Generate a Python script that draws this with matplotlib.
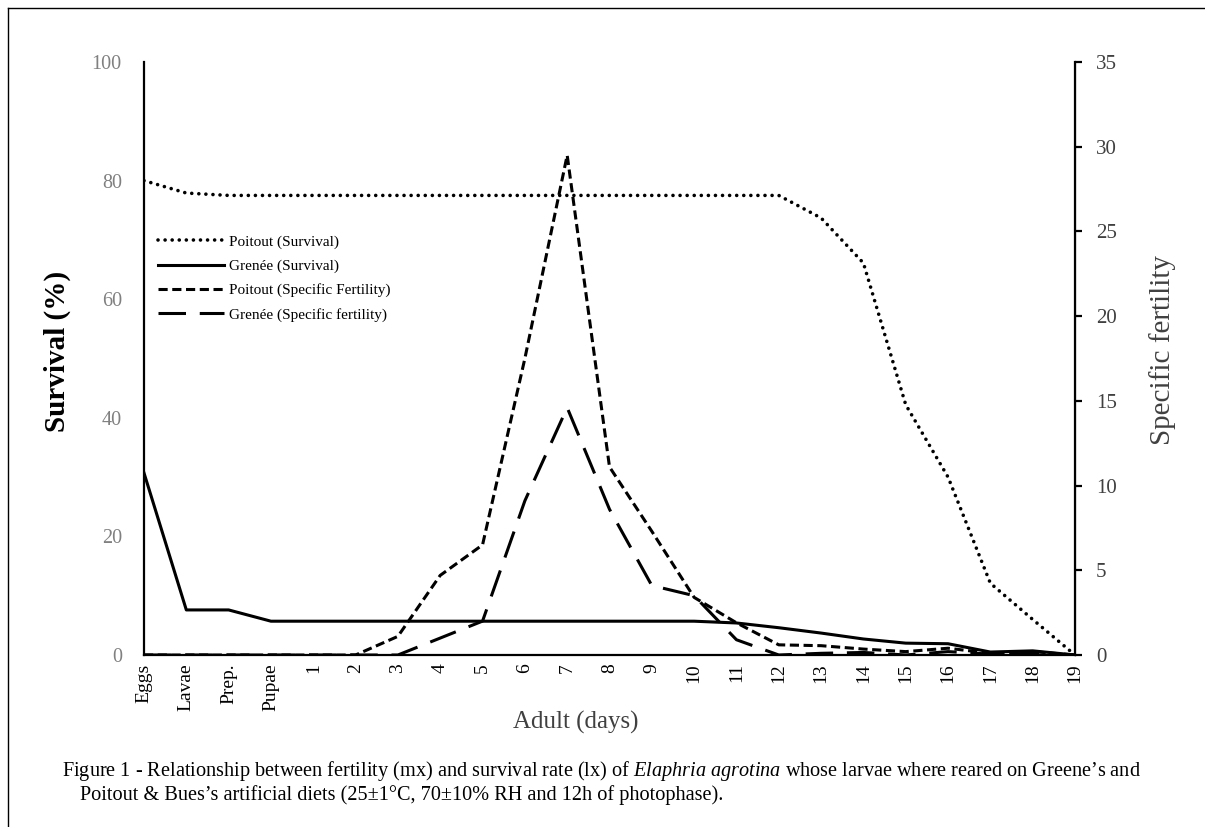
import numpy as np
import matplotlib.pyplot as plt
from matplotlib.lines import Line2D

plt.rcParams['font.family'] = 'Liberation Serif'
plt.rcParams['mathtext.fontset'] = 'custom'
plt.rcParams['mathtext.rm'] = 'Liberation Serif'
plt.rcParams['mathtext.it'] = 'Liberation Serif:italic'

# stages on the x axis
stages = ['Eggs', 'Lavae', 'Prep.', 'Pupae'] + [str(d) for d in range(1, 20)]

# survival (%) - left axis
poitout_surv = [80.0, 77.9, 77.5, 77.5, 77.5, 77.5, 77.5, 77.5, 77.5, 77.5, 77.5, 77.5,
                77.5, 77.5, 77.5, 77.5, 73.7, 66.1, 42.2, 30.0, 12.1, 6.0, 0.0]
grenee_surv = [30.7, 7.6, 7.6, 5.7, 5.7, 5.7, 5.7, 5.7, 5.7, 5.7, 5.7, 5.7,
               5.7, 5.7, 5.4, 4.6, 3.7, 2.7, 2.0, 1.9, 0.5, 0.7, 0.0]

# specific fertility - right axis
poitout_fert = [0, 0, 0, 0, 0, 0, 1.1, 4.7, 6.5, 17.5, 29.5, 11.1,
                7.3, 3.4, 1.9, 0.6, 0.55, 0.35, 0.2, 0.4, 0.1, 0.2, 0]
grenee_fert = [0, 0, 0, 0, 0, 0, 0, 1.0, 2.0, 9.1, 14.6, 8.6,
               4.1, 3.5, 0.9, 0, 0.1, 0.15, 0, 0.2, 0.05, 0.1, 0]

labels = ['Poitout (Survival)', 'Grenée (Survival)',
          'Poitout (Specific Fertility)', 'Grenée (Specific fertility)']

W, H = 1205, 827
fig = plt.figure(figsize=(W / 100, H / 100), dpi=100)
ax = fig.add_axes([144 / W, 1 - 655 / H, (1075 - 144) / W, (655 - 62) / H])
ax2 = ax.twinx()

x = np.arange(len(stages))
l1, = ax.plot(x, poitout_surv, color='black', lw=2.6, linestyle=(0, (0.01, 1.95)),
              dash_capstyle='round', label=labels[0])
l2, = ax.plot(x, grenee_surv, color='black', lw=2.2, label=labels[1])
l3, = ax2.plot(x, poitout_fert, color='black', lw=2.2, linestyle=(0, (3.0, 1.5)),
               label=labels[2])
l4, = ax2.plot(x, grenee_fert, color='black', lw=2.2, linestyle=(0, (9, 4.5)),
               label=labels[3])

ax.set_xlim(0, len(stages) - 1)
ax.set_ylim(0, 100)
ax.set_yticks(range(0, 101, 20))
ax2.set_ylim(0, 35)
ax2.set_yticks(range(0, 36, 5))
ax.set_xticks(x)
ax.set_xticklabels(stages, rotation=90)

ax.spines['top'].set_visible(False)
ax2.spines['top'].set_visible(False)
ax2.spines['left'].set_visible(False)
ax2.spines['bottom'].set_visible(False)
ax.spines['left'].set_linewidth(1.6)
ax.spines['bottom'].set_linewidth(1.6)
ax2.spines['right'].set_linewidth(1.6)

ax.tick_params(axis='y', length=0, pad=16, labelsize=14.5, labelcolor='#808080')
ax.tick_params(axis='x', length=0, pad=6, labelsize=14)
ax2.tick_params(axis='y', length=5, width=1.6, pad=10, labelsize=15, labelcolor='#404040')

fig.text(57 / W, 1 - 351 / H, 'Survival (%)', rotation=90, ha='center', va='center',
         fontsize=21, fontweight='bold')
fig.text(1163 / W, 1 - 350 / H, 'Specific fertility', rotation=90, ha='center',
         va='center', fontsize=21, color='#404040')
fig.text(576 / W, 1 - 722 / H, 'Adult (days)', ha='center', va='center', fontsize=18,
         color='#404040')

ax2.legend([l1, l2, l3, l4], labels, loc='upper left', frameon=False,
           bbox_to_anchor=(158 / W, 1 - 235 / H), bbox_transform=fig.transFigure,
           borderaxespad=0, borderpad=0, fontsize=11, handlelength=4.3,
           handletextpad=0.33, labelspacing=0.68)

fig.text(62 / W, 1 - 771 / H,
         r"Figure 1 - Relationship between fertility (mx) and survival rate (lx) of "
         r"$\it{Elaphria\ agrotina}$ whose larvae where reared on Greene’s and",
         ha='left', va='center', fontsize=14.6)
fig.text(80 / W, 1 - 795 / H,
         "Poitout & Bues’s artificial diets (25±1°C, 70±10% RH and 12h of photophase).",
         ha='left', va='center', fontsize=14.6)

fig.add_artist(Line2D([8 / W, 8 / W], [0, 1 - 8 / H], transform=fig.transFigure,
                      color='black', lw=1))
fig.add_artist(Line2D([8 / W, 1], [1 - 8 / H, 1 - 8 / H], transform=fig.transFigure,
                      color='black', lw=1))

fig.savefig('out.png', dpi=100)
